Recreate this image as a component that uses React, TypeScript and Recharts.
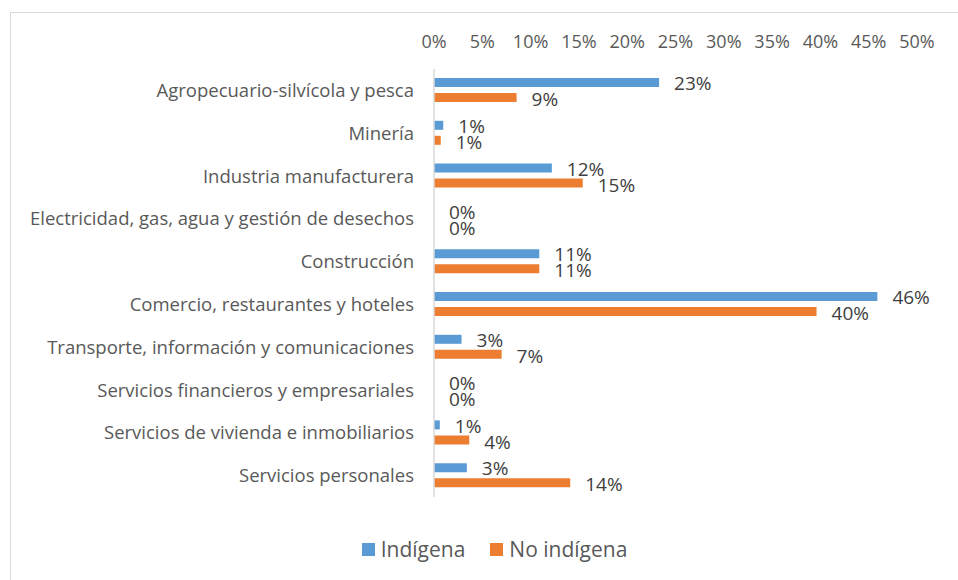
import { BarChart, Bar, XAxis, YAxis, LabelList, Legend } from 'recharts'

const categories = [
  'Agropecuario-silvícola y pesca',
  'Minería',
  'Industria manufacturera',
  'Electricidad, gas, agua y gestión de desechos',
  'Construcción',
  'Comercio, restaurantes y hoteles',
  'Transporte, información y comunicaciones',
  'Servicios financieros y empresariales',
  'Servicios de vivienda e inmobiliarios',
  'Servicios personales'
]
const indigena = [23.3, 0.96, 12.2, 0, 10.9, 45.9, 2.85, 0, 0.6, 3.4]
const noIndigena = [8.55, 0.7, 15.4, 0, 10.9, 39.6, 7.0, 0, 3.65, 14.1]
const xTicks = [0, 5, 10, 15, 20, 25, 30, 35, 40, 45, 50]

const BLUE = '#5B9BD5'
const ORANGE = '#ED7D31'
const TEXT = '#595959'
const FONT = '"Open Sans", sans-serif'

const data = categories.map((name, i) => ({
  name,
  indigena: indigena[i],
  noIndigena: noIndigena[i]
}))

const legendItems = [
  { label: 'Indígena', color: BLUE },
  { label: 'No indígena', color: ORANGE }
]

// zero bars still need a rect so the "0%" label gets drawn
const minSize = (v: number) => (v === 0 ? 0.01 : 0)

function LegendContent() {
  return (
    <div
      style={{
        height: 30,
        display: 'flex',
        justifyContent: 'center',
        alignItems: 'center',
        gap: 25,
        paddingLeft: 72,
        fontFamily: FONT,
        fontSize: 21,
        color: TEXT
      }}
    >
      {legendItems.map((it) => (
        <div key={it.label} style={{ display: 'flex', alignItems: 'center' }}>
          <span style={{ width: 13, height: 13, background: it.color, marginRight: 6, display: 'inline-block' }} />
          <span>{it.label}</span>
        </div>
      ))}
    </div>
  )
}

const labelStyle = { fill: '#404040', fontSize: 19, fontFamily: FONT }

export default function App() {
  return (
    <div style={{ position: 'absolute', left: 0, top: 0, width: 958, height: 580, overflow: 'hidden', background: '#fff' }}>
      <div
        style={{
          position: 'absolute',
          left: 10,
          top: 12,
          width: 1000,
          height: 700,
          border: '1.5px solid #D9D9D9'
        }}
      />
      <BarChart
        width={958}
        height={580}
        data={data}
        layout="vertical"
        margin={{ top: 39, right: 41, bottom: 53, left: 0 }}
        barSize={9}
        barGap={6}
        style={{ position: 'absolute', left: 0, top: 0 }}
      >
        <XAxis
          type="number"
          orientation="top"
          domain={[0, 50]}
          ticks={xTicks}
          tickFormatter={(v: number) => `${v}%`}
          axisLine={false}
          tickLine={false}
          tickSize={0}
          tickMargin={21}
          height={30}
          interval={0}
          tick={{ fill: TEXT, fontSize: 18, fontFamily: FONT }}
        />
        <YAxis
          type="category"
          dataKey="name"
          width={434}
          axisLine={{ stroke: '#D9D9D9', strokeWidth: 1.5 }}
          tickLine={false}
          tickSize={0}
          tickMargin={20}
          interval={0}
          tick={{ fill: TEXT, fontSize: 18.5, fontFamily: FONT }}
        />
        <Legend verticalAlign="bottom" wrapperStyle={{ bottom: 16 }} content={<LegendContent />} />
        <Bar dataKey="indigena" name="Indígena" fill={BLUE} minPointSize={minSize} isAnimationActive={false}>
          <LabelList
            dataKey="indigena"
            position="right"
            offset={15}
            dy={1}
            formatter={(v: number) => `${Math.round(v)}%`}
            style={labelStyle}
          />
        </Bar>
        <Bar dataKey="noIndigena" name="No indígena" fill={ORANGE} minPointSize={minSize} isAnimationActive={false}>
          <LabelList
            dataKey="noIndigena"
            position="right"
            offset={15}
            dy={2}
            formatter={(v: number) => `${Math.round(v)}%`}
            style={labelStyle}
          />
        </Bar>
      </BarChart>
    </div>
  )
}
